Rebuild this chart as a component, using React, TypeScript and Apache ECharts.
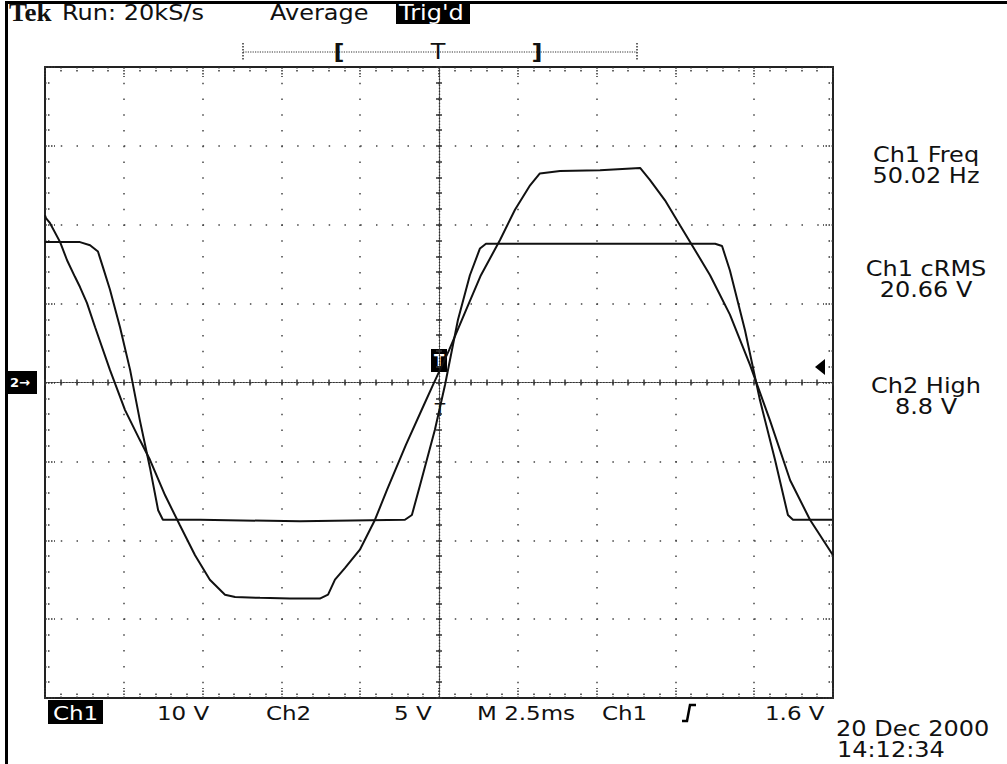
import React, { useEffect, useRef } from "react";
import * as echarts from "echarts";

// Horizontal: time relative to trigger (ms), 2.5 ms/div, 10 divisions
const T_MIN = -12.5;
const T_MAX = 12.5;
const T_DIV = 2.5;
// Vertical: 8 divisions
const Y_MIN = -4;
const Y_MAX = 4;
const CH1_VDIV = 10; // V/div
const CH2_VDIV = 5; // V/div

// Ch1 trace: time from screen start (ms) and volts
const ch1Time = [0, 0.03, 0.16, 0.48, 0.7, 0.95, 1.11, 1.33, 1.59, 2.06, 2.54, 3.01, 3.33, 3.81, 4.28, 4.76, 5.23, 5.71, 6.03, 6.82, 7.77, 8.72, 8.98, 9.2, 9.52, 9.99, 10.47, 10.85, 11.45, 12.02, 12.31, 12.82, 13.36, 13.83, 14.44, 14.91, 15.39, 15.7, 16.34, 17.61, 18.88, 19.19, 19.67, 20.15, 20.62, 21.1, 21.73, 22.37, 23.0, 23.64, 24.27, 25.0];
const ch1Volts = [21.2, 20.85, 20.2, 17.8, 15.5, 13.4, 12.1, 10.1, 7.0, 1.6, -3.5, -7.3, -9.8, -14.3, -18.1, -21.9, -25.0, -26.9, -27.2, -27.3, -27.4, -27.4, -26.9, -25.0, -23.5, -21.2, -17.4, -13.6, -7.9, -2.85, -0.3, 4.1, 9.2, 13.6, 18.1, 21.9, 25.0, 26.5, 26.8, 26.9, 27.2, 25.7, 23.1, 19.9, 16.8, 13.6, 8.6, 2.2, -4.8, -12.4, -17.4, -21.9];

// Ch2 trace
const ch2Time = [0, 1.11, 1.43, 1.68, 1.84, 2.06, 2.38, 2.7, 3.01, 3.33, 3.59, 3.74, 4.92, 8.09, 11.42, 11.64, 11.9, 12.37, 12.69, 13.1, 13.48, 13.8, 13.99, 17.61, 21.26, 21.48, 21.73, 22.21, 22.68, 23.16, 23.57, 23.73, 24.97];
const ch2Volts = [8.9, 8.9, 8.7, 8.3, 7.3, 5.9, 3.5, 0.8, -2.4, -5.4, -8.1, -8.7, -8.7, -8.8, -8.7, -8.4, -6.5, -3.0, -0.16, 3.96, 6.8, 8.5, 8.8, 8.8, 8.8, 8.65, 7.1, 3.3, -1.1, -4.9, -8.4, -8.7, -8.7];

const headerTexts = ["Run: 20kS/s", "Average", "Trig'd"];
const bottomTexts = ["Ch1", "10 V", "Ch2", "5 V", "M 2.5ms", "Ch1", "1.6 V"];
const measureTexts = [
  ["Ch1 Freq", "50.02 Hz"],
  ["Ch1 cRMS", "20.66 V"],
  ["Ch2 High", "8.8 V"],
];
const dateTexts = ["20 Dec 2000", "14:12:34"];

const FONT = "'DejaVu Sans', sans-serif";
const INK = "#111";
const SY = 0.85; // the scope's bitmap font is wide and short

const GRID = { left: 45, top: 67, width: 788, height: 631 };

function txt(text: string, x: number, y: number, extra: any = {}, scaleY = SY) {
  return {
    type: "text",
    x,
    y,
    scaleY,
    silent: true,
    style: {
      text,
      fill: INK,
      fontSize: 24,
      fontFamily: FONT,
      textAlign: "left",
      textVerticalAlign: "middle",
      ...extra,
    },
  };
}

export default function App() {
  const ref = useRef<HTMLDivElement>(null);

  useEffect(() => {
    if (!ref.current) return;
    const chart = echarts.init(ref.current, undefined, { renderer: "svg" });

    const ch1Data = ch1Time.map((t, i) => [t + T_MIN, ch1Volts[i] / CH1_VDIV]);
    const ch2Data = ch2Time.map((t, i) => [t + T_MIN, ch2Volts[i] / CH2_VDIV]);

    const dotted = [1.5, 14.26];
    const tickDots = { color: "#333", width: 1.5, type: [1.5, 1.5] };
    const frameX = (position: string, split: boolean) => ({
      type: "value",
      gridIndex: 0,
      position,
      min: T_MIN,
      max: T_MAX,
      interval: T_DIV,
      axisLine: { show: true, onZero: false, lineStyle: { color: "#222", width: 2 } },
      axisTick: { show: true, inside: true, length: 10, lineStyle: tickDots },
      minorTick: { show: true, splitNumber: 5, length: 5, lineStyle: tickDots },
      axisLabel: { show: false },
      splitLine: { show: split, lineStyle: { color: "#444", width: 1.5, type: dotted } },
    });
    const frameY = (position: string, split: boolean) => ({
      type: "value",
      gridIndex: 0,
      position,
      min: Y_MIN,
      max: Y_MAX,
      interval: 1,
      axisLine: { show: true, onZero: false, lineStyle: { color: "#222", width: 2 } },
      axisTick: { show: true, inside: true, length: 10, lineStyle: tickDots },
      minorTick: { show: true, splitNumber: 5, length: 5, lineStyle: tickDots },
      axisLabel: { show: false },
      splitLine: { show: split, lineStyle: { color: "#444", width: 1.5, type: dotted } },
    });
    const centerStyle = { color: "#333", width: 1.2, type: [1.2, 1.8] };
    const centerX = (position: string) => ({
      type: "value",
      gridIndex: 1,
      position,
      min: T_MIN,
      max: T_MAX,
      interval: T_DIV,
      axisLine: { show: true, onZero: true, lineStyle: centerStyle },
      axisTick: { show: true, inside: true, length: 3, lineStyle: { color: "#333", width: 1.5 } },
      minorTick: { show: true, splitNumber: 5, length: 3, lineStyle: { color: "#333", width: 1.5 } },
      axisLabel: { show: false },
      splitLine: { show: false },
    });
    const centerY = (position: string) => ({
      type: "value",
      gridIndex: 1,
      position,
      min: Y_MIN,
      max: Y_MAX,
      interval: 1,
      axisLine: { show: true, onZero: true, lineStyle: centerStyle },
      axisTick: { show: true, inside: true, length: 3, lineStyle: { color: "#333", width: 1.5 } },
      minorTick: { show: true, splitNumber: 5, length: 3, lineStyle: { color: "#333", width: 1.5 } },
      axisLabel: { show: false },
      splitLine: { show: false },
    });

    const B = { fontSize: 23 };
    const graphic: any[] = [
      // screen border
      { type: "rect", shape: { x: 5, y: 1, width: 1002, height: 3 }, style: { fill: "#000" }, silent: true },
      { type: "rect", shape: { x: 5, y: 1, width: 3, height: 763 }, style: { fill: "#000" }, silent: true },
      // header
      txt("Tek", 9, 13, { fontFamily: "'Liberation Serif', serif", fontWeight: "bold", fontSize: 27 }, 0.9),
      txt(headerTexts[0], 62, 13),
      txt(headerTexts[1], 270, 13),
      { type: "rect", shape: { x: 396, y: 4, width: 74, height: 20 }, style: { fill: "#000" }, silent: true },
      txt(headerTexts[2], 399, 13, { fill: "#fff" }),
      // trigger position bar
      { type: "line", shape: { x1: 243, y1: 52, x2: 637, y2: 52 }, style: { stroke: "#333", lineWidth: 1.2, lineDash: [1.2, 1.2] }, silent: true },
      { type: "line", shape: { x1: 243, y1: 43, x2: 243, y2: 61 }, style: { stroke: "#333", lineWidth: 1.5, lineDash: [1.5, 1.5] }, silent: true },
      { type: "line", shape: { x1: 637, y1: 43, x2: 637, y2: 61 }, style: { stroke: "#333", lineWidth: 1.5, lineDash: [1.5, 1.5] }, silent: true },
      txt("[", 339, 52, { textAlign: "center", fontWeight: "bold" }),
      txt("T", 438, 52, { textAlign: "center" }),
      txt("]", 537, 52, { textAlign: "center", fontWeight: "bold" }),
      // ground marker ch2
      { type: "rect", shape: { x: 8, y: 371, width: 29, height: 23 }, style: { fill: "#000" }, silent: true },
      txt("2→", 10, 382, { fill: "#fff", fontSize: 13, fontWeight: "bold" }, 1),
      // trigger level marker
      { type: "polygon", shape: { points: [[815, 367], [825, 359], [825, 375]] }, style: { fill: "#000" }, silent: true },
      // trigger time marker
      { type: "rect", shape: { x: 431, y: 349, width: 16, height: 23 }, style: { fill: "#000" }, silent: true },
      txt("T", 439, 361, { fill: "#fff", fontSize: 15, textAlign: "center", fontWeight: "bold" }, 1),
      txt("T", 440, 410, { fontSize: 17, textAlign: "center" }, 1),
      // bottom status row
      { type: "rect", shape: { x: 48, y: 700, width: 55, height: 24 }, style: { fill: "#000" }, silent: true },
      txt(bottomTexts[0], 53, 713, { ...B, fill: "#fff" }),
      txt(bottomTexts[1], 157, 713, B),
      txt(bottomTexts[2], 266, 713, B),
      txt(bottomTexts[3], 394, 713, B),
      txt(bottomTexts[4], 477, 713, B),
      txt(bottomTexts[5], 602, 713, B),
      { type: "polyline", shape: { points: [[682, 721], [687, 721], [690, 705], [696, 705]] }, style: { stroke: "#000", lineWidth: 2.5, fill: null }, silent: true },
      txt(bottomTexts[6], 765, 713, B),
      // measurements
      txt(measureTexts[0][0], 926, 155, { textAlign: "center" }),
      txt(measureTexts[0][1], 926, 176, { textAlign: "center" }),
      txt(measureTexts[1][0], 926, 269, { textAlign: "center" }),
      txt(measureTexts[1][1], 926, 290, { textAlign: "center" }),
      txt(measureTexts[2][0], 926, 386, { textAlign: "center" }),
      txt(measureTexts[2][1], 926, 407, { textAlign: "center" }),
      // date
      txt(dateTexts[0], 836, 729),
      txt(dateTexts[1], 837, 750),
    ];

    chart.setOption({
      animation: false,
      backgroundColor: "#fff",
      grid: [
        { ...GRID, containLabel: false },
        { ...GRID, containLabel: false },
      ],
      xAxis: [frameX("bottom", true), frameX("top", false), centerX("bottom"), centerX("top")],
      yAxis: [frameY("left", true), frameY("right", false), centerY("left"), centerY("right")],
      series: [
        {
          name: "Ch1",
          type: "line",
          xAxisIndex: 0,
          yAxisIndex: 0,
          data: ch1Data,
          showSymbol: false,
          symbol: "none",
          lineStyle: { color: INK, width: 2 },
          z: 10,
        },
        {
          name: "Ch2",
          type: "line",
          xAxisIndex: 0,
          yAxisIndex: 0,
          data: ch2Data,
          showSymbol: false,
          symbol: "none",
          lineStyle: { color: INK, width: 2 },
          z: 10,
        },
      ],
      graphic,
    });

    return () => chart.dispose();
  }, []);

  return (
    <div
      ref={ref}
      style={{ position: "fixed", left: 0, top: 0, width: 1007, height: 764, background: "#fff" }}
    />
  );
}
